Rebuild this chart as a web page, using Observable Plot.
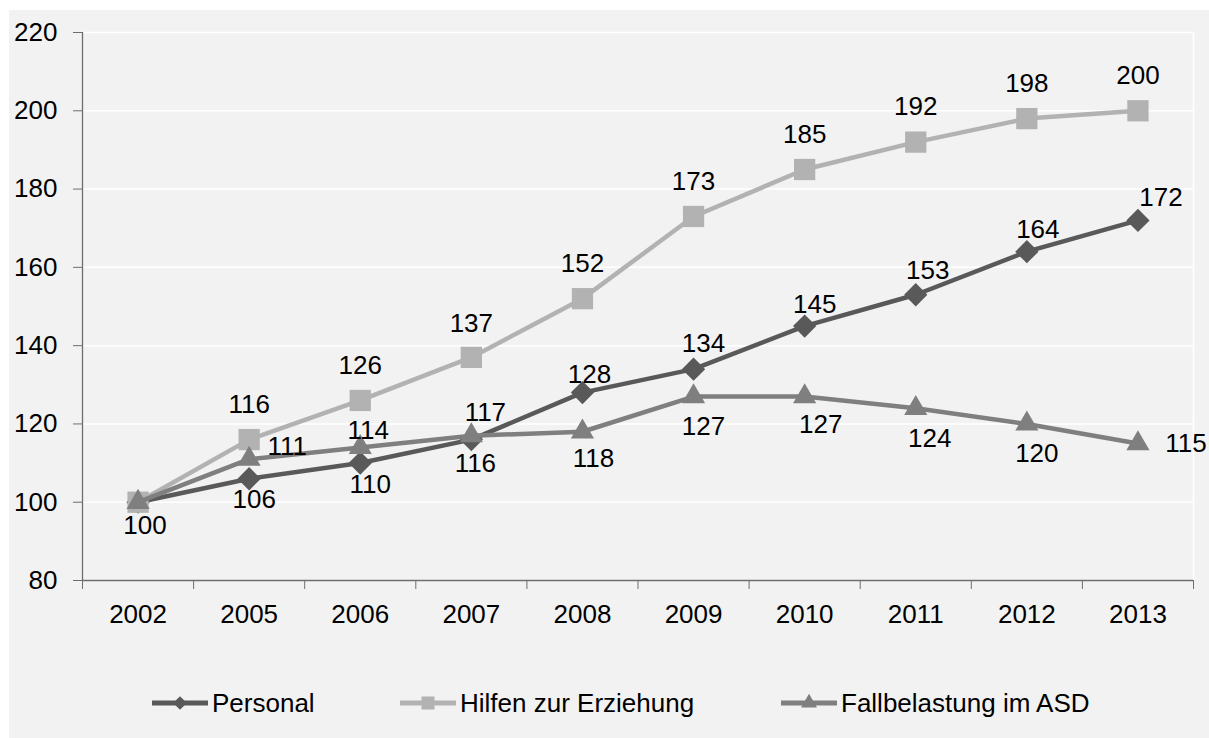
<!DOCTYPE html>
<html>
<head>
<meta charset="utf-8">
<script src="https://cdn.jsdelivr.net/npm/d3@7"></script>
<script src="https://cdn.jsdelivr.net/npm/@observablehq/plot@0.6"></script>
<style>
  html, body { margin: 0; padding: 0; background: #ffffff; }
  #chart { position: absolute; left: 9px; top: 10px; width: 1200px; height: 728px; background: #f2f2f2; overflow: hidden; }
  #chart svg { display: block; }
</style>
</head>
<body>
<div id="chart"></div>
<script>
// ---- data ----
const years = ["2002", "2005", "2006", "2007", "2008", "2009", "2010", "2011", "2012", "2013"];
const seriesNames = ["Personal", "Hilfen zur Erziehung", "Fallbelastung im ASD"];
const personal = [100, 106, 110, 116, 128, 134, 145, 153, 164, 172];
const hilfen = [100, 116, 126, 137, 152, 173, 185, 192, 198, 200];
const fallbelastung = [100, 111, 114, 117, 118, 127, 127, 124, 120, 115];
const yTicks = [80, 100, 120, 140, 160, 180, 200, 220];

// ---- styling / layout (not data) ----
const colors = ["#595959", "#b2b2b2", "#7f7f7f"];
const symbols = ["diamond2", "square", "triangle"];
const radii = [10.5, 12, 8.6];
const legendSymbols = [d3.symbolDiamond2, d3.symbolSquare, d3.symbolTriangle];
const legendSizes = [120, 170, 110];
// label offsets [dx, dy] per series and point (null = no label)
const labelOffsets = [
  [[7, 23], [5, 21], [10, 22], [4, 24], [7, -18], [10, -25], [10, -21], [12, -24], [11, -22], [23, -23]],
  [null, [0, -35], [0, -35], [0, -34], [0, -35], [0, -35], [0, -35], [0, -35], [0, -35], [0, -35]],
  [null, [38, -12], [8, -17], [14, -23], [11, 27], [10, 30], [16, 28], [14, 30], [10, 30], [48, 0]]
];

const seriesValues = [personal, hilfen, fallbelastung];
const series = seriesNames.map((name, k) => ({
  name,
  rows: years.map((year, i) => ({ i, year, value: seriesValues[k][i], series: name }))
}));

const font = "'Liberation Sans', Arial, sans-serif";
const fontSize = 26;

const marks = [
  Plot.gridY(yTicks, { stroke: "#ffffff", strokeOpacity: 1, strokeWidth: 1.5 }),
  Plot.ruleX([9.5], { stroke: "#ffffff", strokeWidth: 1.5 })
];

series.forEach((s, k) => {
  marks.push(Plot.line(s.rows, { x: "i", y: "value", stroke: colors[k], strokeWidth: 4.5, curve: "linear" }));
  marks.push(Plot.dot(s.rows, { x: "i", y: "value", symbol: () => symbols[k], r: radii[k], fill: colors[k], stroke: "none" }));
});

series.forEach((s, k) => {
  s.rows.forEach((row, i) => {
    const off = labelOffsets[k][i];
    if (!off) return;
    marks.push(Plot.text([row], {
      x: "i", y: "value", text: d => String(d.value),
      dx: off[0], dy: off[1], fill: "#000000", fontSize, textAnchor: "middle", lineAnchor: "middle"
    }));
  });
});

marks.push(
  Plot.ruleY([80], { stroke: "#6e6e6e", strokeWidth: 1.3 }),
  Plot.ruleX([-0.5], { stroke: "#6e6e6e", strokeWidth: 1.3 }),
  Plot.axisY(yTicks, { tickSize: 9, tickPadding: 16, fontSize, stroke: "#6e6e6e", fill: "#000000", label: null }),
  Plot.axisX(d3.range(-0.5, years.length, 1), { tickSize: 9, tickFormat: () => "", stroke: "#6e6e6e", label: null }),
  Plot.axisX(d3.range(0, years.length), { tickSize: 0, tickPadding: 24, tickFormat: i => years[i], fontSize, fill: "#000000", label: null })
);

const plot = Plot.plot({
  width: 1200,
  height: 640,
  marginLeft: 73,
  marginRight: 16,
  marginTop: 22,
  marginBottom: 70,
  style: { background: "transparent", fontFamily: font, overflow: "visible" },
  x: { type: "linear", domain: [-0.5, 9.5], axis: null },
  y: { domain: [80, 220], axis: null },
  marks
});

const chart = document.getElementById("chart");
chart.appendChild(plot);

// ---- legend (below the plot) ----
const legendItems = [
  { x: 143 }, { x: 391 }, { x: 772 }
];
const lsvg = d3.select(chart).append("svg")
  .attr("width", 1200).attr("height", 88)
  .style("font-family", font);
const ly = 53;
seriesNames.forEach((name, k) => {
  const x0 = legendItems[k].x;
  const g = lsvg.append("g");
  g.append("line").attr("x1", x0).attr("x2", x0 + 56).attr("y1", ly).attr("y2", ly)
    .attr("stroke", colors[k]).attr("stroke-width", 5);
  g.append("path").attr("d", d3.symbol(legendSymbols[k], legendSizes[k])())
    .attr("transform", `translate(${x0 + 28},${ly})`).attr("fill", colors[k]);
  g.append("text").attr("x", x0 + 60).attr("y", ly).attr("dy", "0.35em")
    .attr("font-size", fontSize).attr("fill", "#000").text(name);
});
</script>
</body>
</html>
